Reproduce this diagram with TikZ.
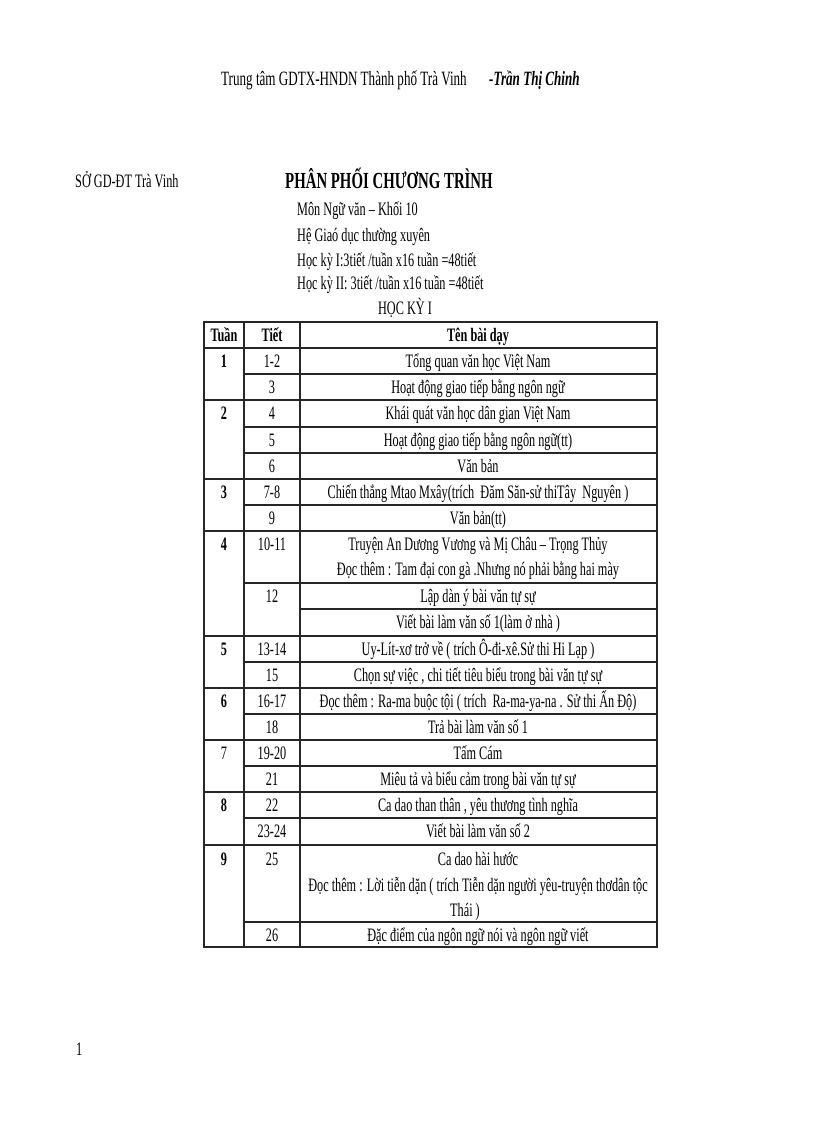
\documentclass[tikz,border=0pt]{standalone}
\usepackage{fontspec}
\setmainfont[FakeStretch=0.645]{Liberation Serif}
\usepackage{tikz}
\tikzstyle{PlainText}=[anchor=base west, inner sep=0pt, font=\fontsize{19}{22}\selectfont]
\tikzstyle{TopText}=[PlainText, font=\fontsize{20.3}{23}\selectfont]
\tikzstyle{TitleText}=[PlainText, font=\fontsize{23}{26}\selectfont\bfseries]
\tikzstyle{CellText}=[anchor=base, inner sep=0pt, font=\fontsize{19}{22}\selectfont]
\tikzstyle{HeadCell}=[CellText, font=\fontsize{19}{22}\selectfont\bfseries]
\tikzstyle{GridLine}=[line width=1.4pt, black!85]

\begin{document}
\begin{tikzpicture}[x=1pt, y=-1pt]
\useasboundingbox (0,0) rectangle (816,1123);

\node[TopText](school) at (221,86) {Trung tâm GDTX-HNDN Thành phố Trà Vinh};
\node[TopText, font=\fontsize{20.3}{23}\selectfont\bfseries\itshape](author) at (489,86) {-Trần Thị Chinh};

\node[PlainText](dept) at (75,188) {SỞ GD-ĐT Trà Vinh};
\node[TitleText](title) at (285,189) {PHÂN PHỐI CHƯƠNG TRÌNH};
\node[PlainText](subject) at (297,215) {Môn Ngữ văn – Khối 10};
\node[PlainText](system) at (297,241) {Hệ Giaó dục thường xuyên};
\node[PlainText](termone) at (297,266) {Học kỳ I:3tiết /tuần x16 tuần =48tiết};
\node[PlainText](termtwo) at (297,289) {Học kỳ II: 3tiết /tuần x16 tuần =48tiết};
\node[CellText](semester) at (405,314) {HỌC KỲ I};

%%%%%%%%%%%%%%%%%%%%%%%%%%%%%%%%%%%%%%%%%

\draw[GridLine] (204,322) rectangle (657,947);
\draw[GridLine] (244,322) -- (244,947);
\draw[GridLine] (300,322) -- (300,947);

\draw[GridLine] (204,348) -- (657,348);
\draw[GridLine] (244,374) -- (657,374);
\draw[GridLine] (204,400) -- (657,400);
\draw[GridLine] (244,427) -- (657,427);
\draw[GridLine] (244,453) -- (657,453);
\draw[GridLine] (204,479) -- (657,479);
\draw[GridLine] (244,505) -- (657,505);
\draw[GridLine] (204,531) -- (657,531);
\draw[GridLine] (244,583) -- (657,583);
\draw[GridLine] (300,609) -- (657,609);
\draw[GridLine] (204,636) -- (657,636);
\draw[GridLine] (244,662) -- (657,662);
\draw[GridLine] (204,688) -- (657,688);
\draw[GridLine] (244,714) -- (657,714);
\draw[GridLine] (204,740) -- (657,740);
\draw[GridLine] (244,766) -- (657,766);
\draw[GridLine] (204,792) -- (657,792);
\draw[GridLine] (244,818) -- (657,818);
\draw[GridLine] (204,845) -- (657,845);
\draw[GridLine] (244,922) -- (657,922);

%%%%%%%%%%%%%%%%%%%%%%%%%%%%%%%%%%%%%%%%%

\node[HeadCell](hWeek) at (224,341) {Tuần};
\node[HeadCell](hPeriod) at (272,341) {Tiết};
\node[HeadCell](hLesson) at (478,341) {Tên bài dạy};

\node[HeadCell](w1) at (224,367) {1};
\node[CellText](p1) at (272,367) {1-2};
\node[CellText](l1) at (478,367) {Tổng quan văn học Việt Nam};
\node[CellText](p3) at (272,393) {3};
\node[CellText](l3) at (478,393) {Hoạt động giao tiếp bằng ngôn ngữ};

\node[HeadCell](w2) at (224,419) {2};
\node[CellText](p4) at (272,419) {4};
\node[CellText](l4) at (478,419) {Khái quát văn học dân gian Việt Nam};
\node[CellText](p5) at (272,446) {5};
\node[CellText](l5) at (478,446) {Hoạt động giao tiếp bằng ngôn ngữ(tt)};
\node[CellText](p6) at (272,472) {6};
\node[CellText](l6) at (478,472) {Văn bản};

\node[HeadCell](w3) at (224,498) {3};
\node[CellText](p7) at (272,498) {7-8};
\node[CellText](l7) at (478,498) {Chiến thắng Mtao Mxây(trích~ Đăm Săn-sử thiTây~ Nguyên )};
\node[CellText](p9) at (272,524) {9};
\node[CellText](l9) at (478,524) {Văn bản(tt)};

\node[HeadCell](w4) at (224,550) {4};
\node[CellText](p10) at (272,550) {10-11};
\node[CellText](l10) at (478,550) {Truyện An Dương Vương và Mị Châu – Trọng Thủy};
\node[CellText](l10b) at (478,575) {Đọc thêm : Tam đại con gà .Nhưng nó phải bằng hai mày};
\node[CellText](p12) at (272,602) {12};
\node[CellText](l12) at (478,602) {Lập dàn ý bài văn tự sự};
\node[CellText](l12b) at (478,628) {Viết bài làm văn số 1(làm ở nhà )};

\node[HeadCell](w5) at (224,655) {5};
\node[CellText](p13) at (272,655) {13-14};
\node[CellText](l13) at (478,655) {Uy-Lít-xơ trở về ( trích Ô-đi-xê.Sử thi Hi Lạp )};
\node[CellText](p15) at (272,681) {15};
\node[CellText](l15) at (478,681) {Chọn sự việc , chi tiết tiêu biểu trong bài văn tự sự};

\node[HeadCell](w6) at (224,707) {6};
\node[CellText](p16) at (272,707) {16-17};
\node[CellText](l16) at (478,707) {Đọc thêm : Ra-ma buộc tội ( trích~ Ra-ma-ya-na . Sử thi Ấn Độ)};
\node[CellText](p18) at (272,733) {18};
\node[CellText](l18) at (478,733) {Trả bài làm văn số 1};

\node[CellText](w7) at (224,759) {7};
\node[CellText](p19) at (272,759) {19-20};
\node[CellText](l19) at (478,759) {Tấm Cám};
\node[CellText](p21) at (272,785) {21};
\node[CellText](l21) at (478,785) {Miêu tả và biểu cảm trong bài văn tự sự};

\node[HeadCell](w8) at (224,811) {8};
\node[CellText](p22) at (272,811) {22};
\node[CellText](l22) at (478,811) {Ca dao than thân , yêu thương tình nghĩa};
\node[CellText](p23) at (272,837) {23-24};
\node[CellText](l23) at (478,837) {Viết bài làm văn số 2};

\node[HeadCell](w9) at (224,865) {9};
\node[CellText](p25) at (272,865) {25};
\node[CellText](l25) at (478,865) {Ca dao hài hước};
\node[CellText](l25b) at (478,891) {Đọc thêm : Lời tiễn dặn ( trích Tiễn dặn người yêu-truyện thơdân tộc};
\node[CellText](l25c) at (465,916) {Thái )};
\node[CellText](p26) at (272,941) {26};
\node[CellText](l26) at (478,941) {Đặc điểm của ngôn ngữ nói và ngôn ngữ viết};

\node[PlainText](pageno) at (76,1055) {1};
\end{tikzpicture}
\end{document}
